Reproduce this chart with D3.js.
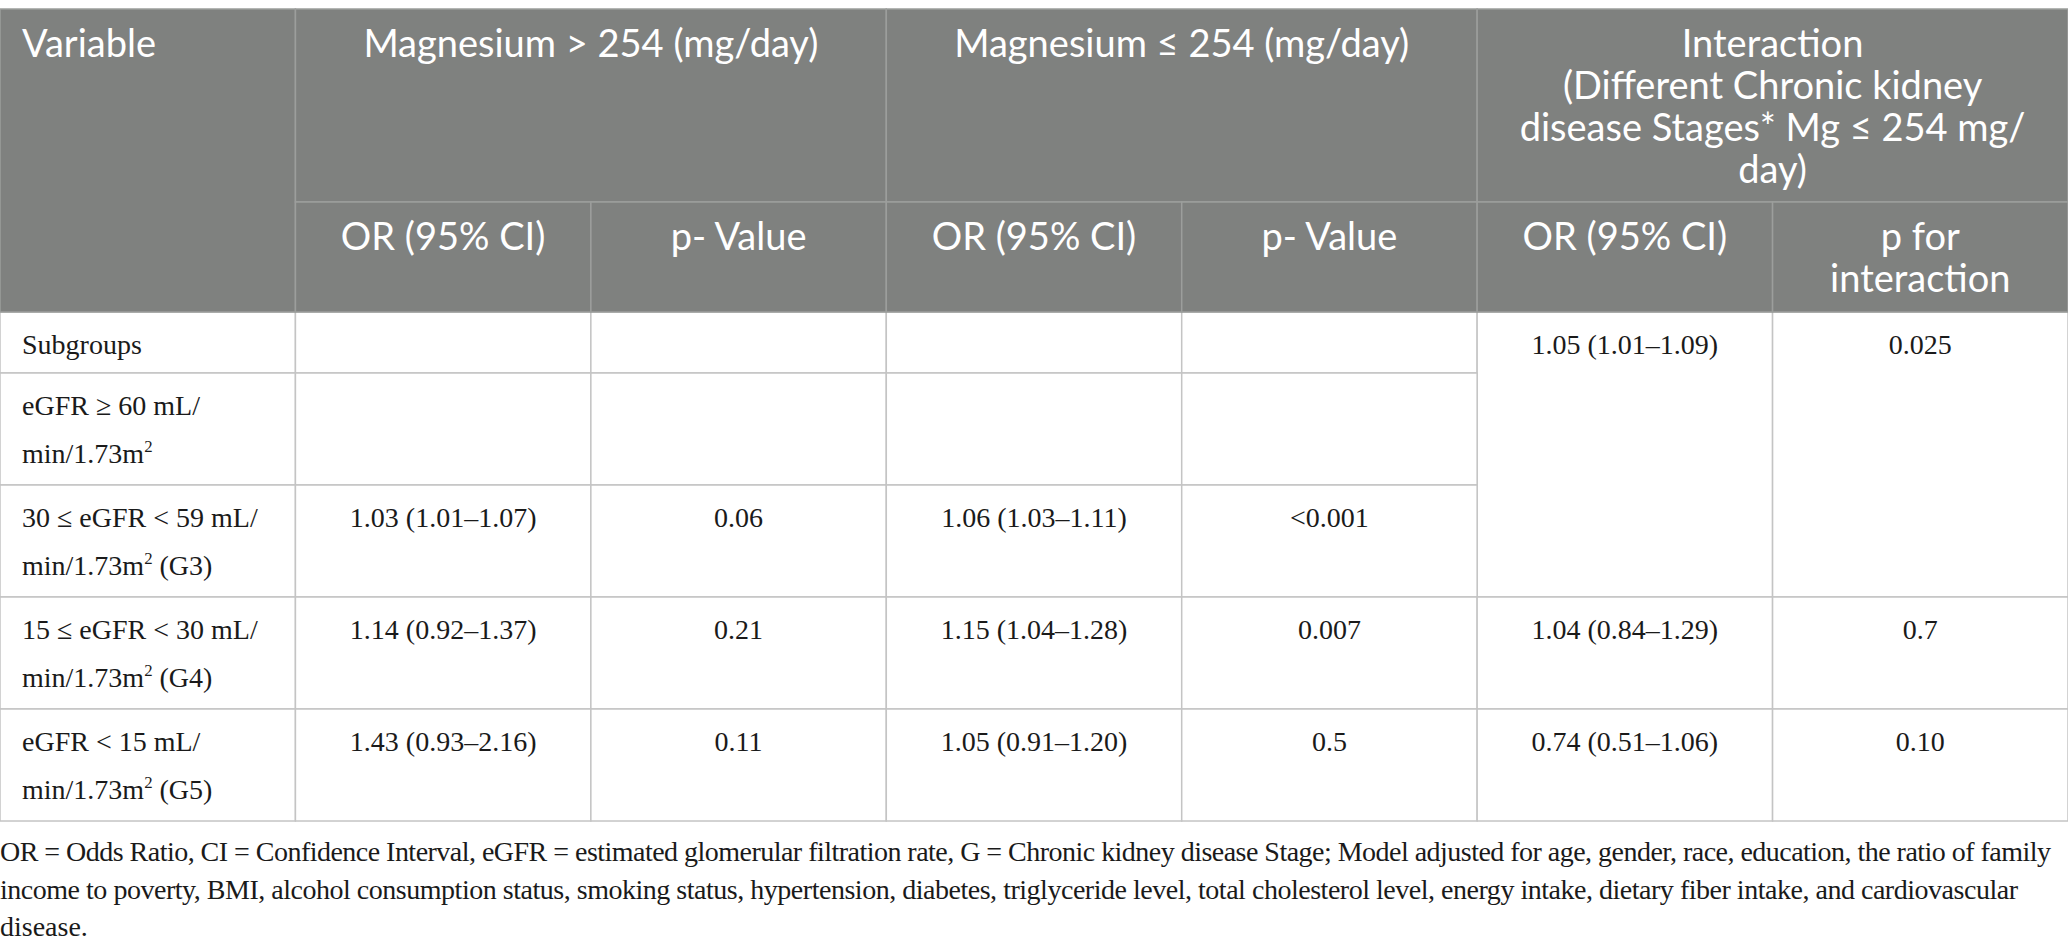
<!DOCTYPE html>
<html>
<head>
<meta charset="utf-8">
<script src="https://cdn.jsdelivr.net/npm/d3@7"></script>
<style>
  body { margin: 0; background: #fff; }
</style>
</head>
<body>
<div id="table"></div>
<script>
// header texts
const firstHeader = ["Variable"];
const groupHeaders = [
  ["Magnesium > 254 (mg/day)"],
  ["Magnesium ≤ 254 (mg/day)"],
  ["Interaction", "(Different Chronic kidney", "disease Stages* Mg ≤ 254 mg/", "day)"]
];
const subHeaders = [
  ["OR (95% CI)"], ["p- Value"],
  ["OR (95% CI)"], ["p- Value"],
  ["OR (95% CI)"], ["p for", "interaction"]
];

// body (a {2} marks a superscript)
const variables = [
  ["Subgroups"],
  ["eGFR ≥ 60 mL/", "min/1.73m{2}"],
  ["30 ≤ eGFR < 59 mL/", "min/1.73m{2} (G3)"],
  ["15 ≤ eGFR < 30 mL/", "min/1.73m{2} (G4)"],
  ["eGFR < 15 mL/", "min/1.73m{2} (G5)"]
];
const highOR = ["", "", "1.03 (1.01–1.07)", "1.14 (0.92–1.37)", "1.43 (0.93–2.16)"];
const highP  = ["", "", "0.06", "0.21", "0.11"];
const lowOR  = ["", "", "1.06 (1.03–1.11)", "1.15 (1.04–1.28)", "1.05 (0.91–1.20)"];
const lowP   = ["", "", "<0.001", "0.007", "0.5"];
const interOR = ["1.05 (1.01–1.09)", null, null, "1.04 (0.84–1.29)", "0.74 (0.51–1.06)"];
const interP  = ["0.025", null, null, "0.7", "0.10"];

const footnote = [
  "OR = Odds Ratio, CI = Confidence Interval, eGFR = estimated glomerular filtration rate, G = Chronic kidney disease Stage; Model adjusted for age, gender, race, education, the ratio of family",
  "income to poverty, BMI, alcohol consumption status, smoking status, hypertension, diabetes, triglyceride level, total cholesterol level, energy intake, dietary fiber intake, and cardiovascular",
  "disease."
];

const W = 2068, H = 952;
const headFont = "Lato, 'Open Sans', sans-serif";
const bodyFont = "'Liberation Serif', 'DejaVu Serif', serif";
const headFill = "#7f817f", headLine = "#9c9e9c", bodyLine = "#c4c4c4";

const svg = d3.select("#table").append("svg")
  .attr("width", W)
  .attr("height", H);

// 7 equal columns
const x = d3.scaleBand().domain(d3.range(7)).range([0, W]);
const cw = x.bandwidth();

// header geometry
const headTop = 9;
const headH = [193, 110];
const headLH = 42;

// body geometry
const bodyTop = headTop + d3.sum(headH);
const rowH = variables.map(v => 10 + 51 * v.length);
const rowY = [bodyTop].concat(Array.from(d3.cumsum(rowH), d => bodyTop + d));
const bodyLH = 48;

function cell(g, col, span, y, h, fill, stroke) {
  g.append("rect")
    .attr("x", x(col))
    .attr("y", y)
    .attr("width", cw * span)
    .attr("height", h)
    .attr("fill", fill)
    .attr("stroke", stroke)
    .attr("stroke-width", 1.5);
}

function writeLine(g, str, tx, ty, anchor, font, size, color) {
  const t = g.append("text")
    .attr("x", tx)
    .attr("y", ty)
    .attr("text-anchor", anchor)
    .attr("font-family", font)
    .attr("font-size", size)
    .attr("fill", color);
  let shift = 0;
  str.split(/(\{\d\})/).forEach(part => {
    if (!part) return;
    const m = part.match(/^\{(\d)\}$/);
    if (m) {
      t.append("tspan").attr("font-size", size * 0.6).attr("dy", -size * 0.38).text(m[1]);
      shift = size * 0.38;
    } else {
      t.append("tspan").attr("dy", shift).text(part);
      shift = 0;
    }
  });
  return t;
}

function writeLines(g, lines, col, span, top, first, lh, align, font, size, color) {
  const tx = align === "start" ? x(col) + 22 : x(col) + cw * span / 2;
  lines.forEach((s, i) => writeLine(g, s, tx, top + first + i * lh, align, font, size, color));
}

// body cells
const body = svg.append("g");
variables.forEach((v, r) => {
  const y = rowY[r], h = rowH[r];
  cell(body, 0, 1, y, h, "#fff", bodyLine);
  [highOR, highP, lowOR, lowP].forEach((arr, i) => cell(body, i + 1, 1, y, h, "#fff", bodyLine));
  if (interOR[r] !== null) {
    let n = 1;
    while (r + n < variables.length && interOR[r + n] === null) n++;
    const hh = rowY[r + n] - y;
    cell(body, 5, 1, y, hh, "#fff", bodyLine);
    cell(body, 6, 1, y, hh, "#fff", bodyLine);
  }
});
variables.forEach((v, r) => {
  const y = rowY[r];
  writeLines(body, v, 0, 1, y, 42, bodyLH, "start", bodyFont, 28, "#1a1a1a");
  [highOR, highP, lowOR, lowP, interOR, interP].forEach((arr, i) => {
    if (arr[r]) writeLines(body, [arr[r]], i + 1, 1, y, 42, bodyLH, "middle", bodyFont, 28, "#1a1a1a");
  });
});

// header cells
const head = svg.append("g");
cell(head, 0, 1, headTop, d3.sum(headH), headFill, headLine);
groupHeaders.forEach((g, i) => cell(head, 1 + i * 2, 2, headTop, headH[0], headFill, headLine));
subHeaders.forEach((s, i) => cell(head, 1 + i, 1, headTop + headH[0], headH[1], headFill, headLine));

writeLines(head, firstHeader, 0, 1, headTop, 48, headLH, "start", headFont, 38, "#fff");
groupHeaders.forEach((g, i) => writeLines(head, g, 1 + i * 2, 2, headTop, 48, headLH, "middle", headFont, 38, "#fff"));
subHeaders.forEach((s, i) => writeLines(head, s, 1 + i, 1, headTop + headH[0], 48, 42, "middle", headFont, 38, "#fff"));

// footnote
const foot = svg.append("g");
const footTargets = [2051, 2018, null];
footnote.forEach((s, i) => {
  const t = writeLine(foot, s, 0, 861 + i * 37.5, "start", bodyFont, 28, "#1a1a1a");
  if (footTargets[i]) t.attr("textLength", footTargets[i]);
});
</script>
</body>
</html>
